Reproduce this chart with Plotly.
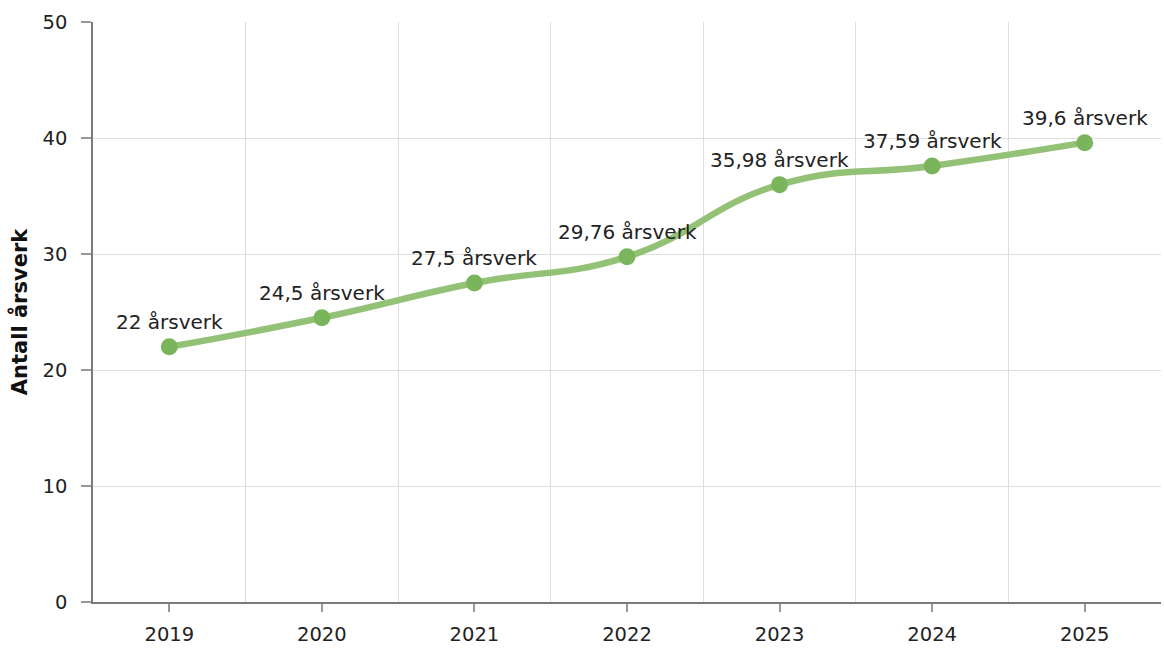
import plotly.graph_objects as go

years = ["2019", "2020", "2021", "2022", "2023", "2024", "2025"]
values = [22, 24.5, 27.5, 29.76, 35.98, 37.59, 39.6]
labels = ["22 årsverk", "24,5 årsverk", "27,5 årsverk", "29,76 årsverk",
          "35,98 årsverk", "37,59 årsverk", "39,6 årsverk"]
y_ticks = [0, 10, 20, 30, 40, 50]

xpos = list(range(len(years)))
bounds = [i - 0.5 for i in range(len(years) + 1)]

FONT = "DejaVu Sans, Verdana"

fig = go.Figure()
fig.add_trace(go.Scatter(
    x=xpos, y=values, mode="lines",
    line=dict(color="#93c277", width=6.5, shape="spline", smoothing=1.3),
    hoverinfo="skip", showlegend=False,
))
fig.add_trace(go.Scatter(
    x=xpos, y=values, mode="markers",
    marker=dict(color="#7ab55c", size=17),
    showlegend=False,
))
for x, y, t in zip(xpos, values, labels):
    fig.add_annotation(x=x, y=y, text=t, showarrow=False, yshift=25,
                       font=dict(family=FONT, size=20, color="#222222"))

fig.update_layout(
    width=1164, height=648,
    margin=dict(l=93, r=3, t=22, b=46),
    plot_bgcolor="white", paper_bgcolor="white",
    font=dict(family=FONT, size=19.5, color="#222222"),
    xaxis=dict(
        range=[-0.5, len(years) - 0.5],
        tickmode="array", tickvals=xpos, ticktext=years,
        showgrid=False, zeroline=False,
        showline=True, linecolor="#7a7a7a", linewidth=1.5,
        ticks="outside", ticklen=8, tickcolor="#999999", tickwidth=1.5,
        ticklabelstandoff=6,
        tickfont=dict(family=FONT, size=19.5, color="#222222"),
        minor=dict(tickmode="array", tickvals=bounds, showgrid=True,
                   gridcolor="#dedede", gridwidth=1, ticklen=0),
    ),
    yaxis=dict(
        range=[0, 50], tickmode="array", tickvals=y_ticks,
        showgrid=True, gridcolor="#dedede", gridwidth=1, zeroline=False,
        showline=True, linecolor="#7a7a7a", linewidth=1.5,
        ticks="outside", ticklen=10, tickcolor="#999999", tickwidth=1.5,
        ticklabelstandoff=10,
        tickfont=dict(family=FONT, size=19.5, color="#222222"),
        title=dict(text="<b>Antall årsverk</b>", standoff=9,
                   font=dict(family=FONT, size=21, color="#111111")),
    ),
)

fig.write_html("out.html", config={"displayModeBar": False},
               post_script="document.body.style.margin='0px';")
